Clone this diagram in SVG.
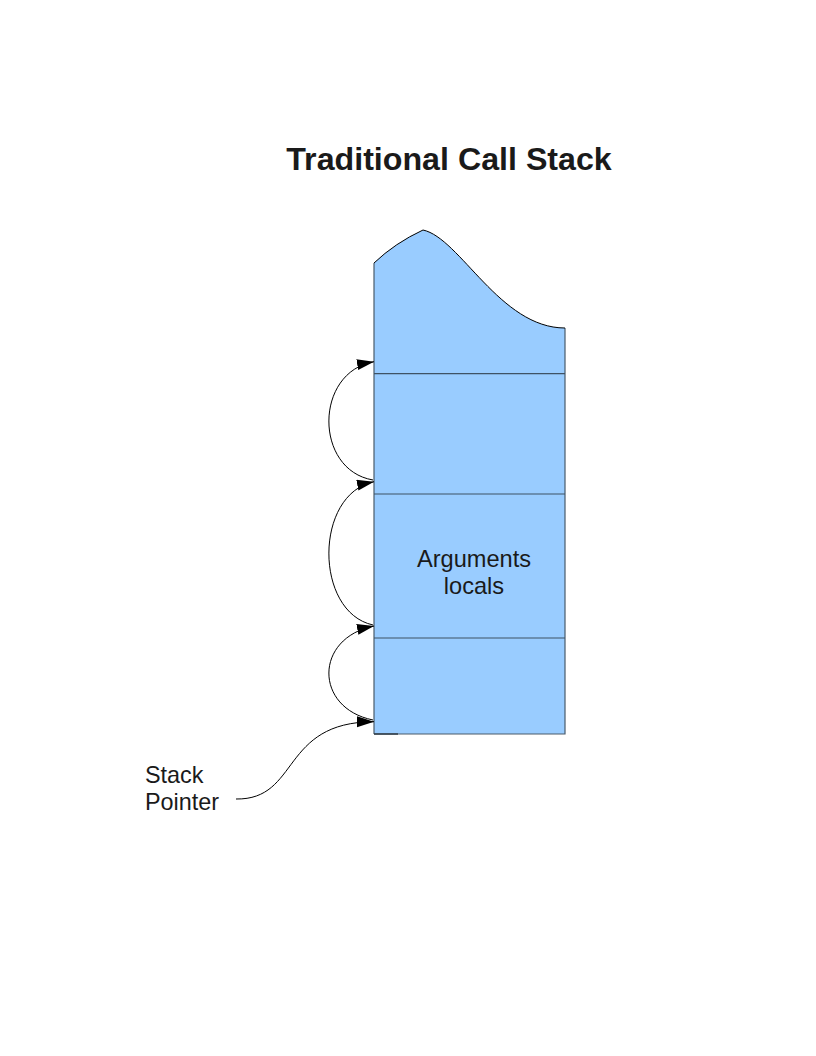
<svg xmlns="http://www.w3.org/2000/svg" width="816" height="1056" viewBox="0 0 816 1056">
<style>
.t{font-family:"Liberation Sans",Arial,sans-serif;fill:#1a1a1a}
.c{fill:none;stroke:#000;stroke-width:1;marker-end:url(#ah)}
.div{stroke:#3f5264;stroke-width:1.2}
</style>
<defs>
<marker id="ah" markerUnits="userSpaceOnUse" markerWidth="19" markerHeight="13" refX="17" refY="5.5" orient="auto">
<path d="M0,0 L17,5.5 L0,11 z" fill="#000"/>
</marker>
</defs>
<rect width="816" height="1056" fill="#fff"/>
<g id="title"><text class="t" x="449" y="170" font-size="32.2" font-weight="bold" text-anchor="middle">Traditional Call Stack</text></g>
<g id="stack">
<path d="M374,734 L374,263 Q395,243 423,230 C460,238 500,328 565,328 L565,734 Z" fill="#99ccff" stroke="none"/>
<path d="M374,734 L374,263 M565,328 L565,734 L374,734" fill="none" stroke="#4a5b6b" stroke-width="1.2"/>
<path d="M374,263 Q395,243 423,230 C460,238 500,328 565,328" fill="none" stroke="#000" stroke-width="1"/>
<line class="div" x1="374" y1="373.7" x2="565" y2="373.7"/>
<line class="div" x1="374" y1="494" x2="565" y2="494"/>
<line class="div" x1="374" y1="638" x2="565" y2="638"/>
<line x1="374" y1="734" x2="398" y2="734" stroke="#2a3540" stroke-width="1.4"/>
<text class="t" x="474" y="567.3" font-size="23.6" text-anchor="middle">Arguments</text>
<text class="t" x="474" y="594.3" font-size="23.6" text-anchor="middle">locals</text>
</g>
<g id="label"><text class="t" x="145" y="783.3" font-size="23.4">Stack</text><text class="t" x="145" y="810" font-size="23.4">Pointer</text></g>
<g id="connectors">
<path class="c" d="M373,480 C314,470 314,372 374,361.7"/>
<path class="c" d="M373,625 C314,612 314,494 374,481.7"/>
<path class="c" d="M373,720 C314,708 314,638 374,626"/>
<path class="c" d="M236,799 C300,800 280,722 374,721.7"/>
</g>
</svg>
